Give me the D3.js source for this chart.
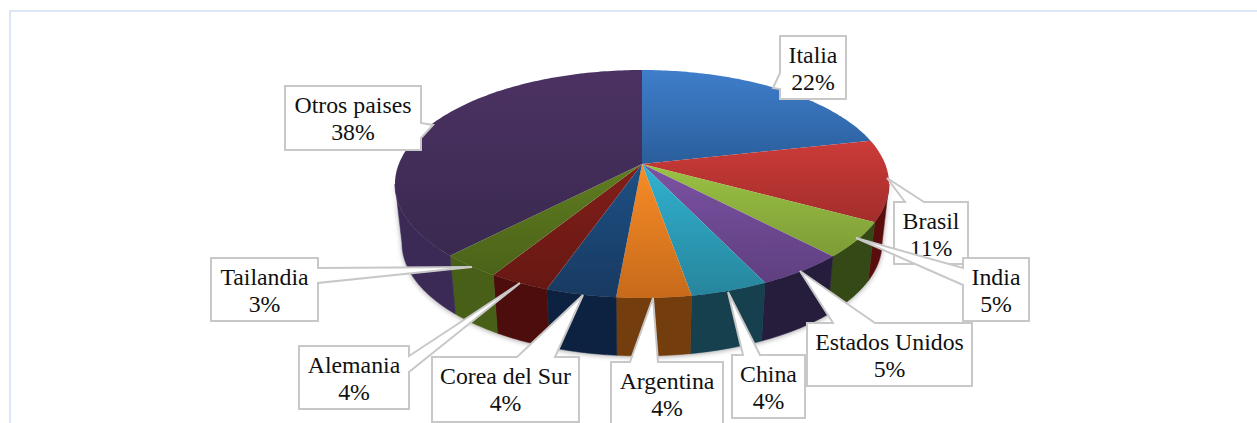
<html>
<head>
  <meta charset="utf-8">
  <script src="https://d3js.org/d3.v7.min.js"></script>
  <style>
    html, body { margin:0; padding:0; background:#fff; overflow:hidden; }
    svg { display:block; }
    text { font-family:"Liberation Serif", serif; font-size:23.8px; fill:#111; text-anchor:middle; }
  </style>
</head>
<body>
  <svg id="chart" width="1257" height="423"></svg>
  <script>
    // slice sizes as measured on the picture, the printed labels are the rounded ones
    var paises = [ "Italia", "Brasil", "India", "Estados Unidos", "China",
                   "Argentina", "Corea del Sur", "Alemania", "Tailandia", "Otros paises" ];
    var valores = [ 21.5, 11.5, 5, 5, 4.3, 4.1, 3.9, 3.4, 3.4, 37.9 ];
    var etiquetas = [ "22%", "11%", "5%", "5%", "4%", "4%", "4%", "4%", "3%", "38%" ];

    var colorTop = [ "#3f7ecb", "#cb3b39", "#9ac244", "#7c52a3", "#30b2d1",
                     "#f88c26", "#1d5084", "#811e1a", "#607d20", "#4c3263" ];
    var colorBottom = [ "#2a5e9c", "#a32d2a", "#7d9c36", "#5f3f80", "#27859c",
                        "#c76a1b", "#183a62", "#671813", "#4a6218", "#39294f" ];
    var colorWall = [ "#1f4472", "#5a0e0e", "#364817", "#271a3b", "#123f4e",
                      "#733d0e", "#10243f", "#4d0f0c", "#465f16", "#3a2a56" ];

    // callout boxes: [x, y, w, h], pointer tip, side the pointer leaves from, pointer base
    var cajas = [
      { box:[780,36,66,63],   tip:[773,88],  side:"left",   base:[73,89] },
      { box:[894,202,74,62],  tip:[887,178], side:"top",    base:[905,924] },
      { box:[963,258,66,63],  tip:[856,238], side:"left",   base:[268,285] },
      { box:[807,323,165,63], tip:[800,271], side:"top",    base:[833,875] },
      { box:[732,355,73,63],  tip:[728,292], side:"top",    base:[743,760] },
      { box:[611,362,112,64], tip:[653,298], side:"top",    base:[630,658] },
      { box:[432,357,147,65], tip:[583,295], side:"top",    base:[517,555] },
      { box:[299,346,110,63], tip:[520,283], side:"right",  base:[356,372] },
      { box:[211,258,107,63], tip:[472,267], side:"right",  base:[268,283] },
      { box:[285,86,136,64],  tip:[433,125], side:"right",  base:[123,138] }
    ];

    var svg = d3.select( "#chart" );
    var defs = svg.append( "defs" );

    // the pie is tilted, so the rim goes through a small perspective
    var cx = 642, tilt = -0.1754;
    var apexY = 164, spreadY = 81.7, spreadX = 243.2;
    var wallStart = Math.acos( tilt ), wallEnd = 2*Math.PI - wallStart;   // silhouette points

    function rim( a ) {
      var x = Math.sin( a ), y = -Math.cos( a ), w = 1 + tilt*y;
      return [ cx + spreadX*x/w, ( apexY + spreadY*y )/w ];
    }
    function rimBottom( a ) {                 // same rim, on the floor of the disc
      var p = rim( a );
      return [ cx + (p[0]-cx)*240/247, 243 + (p[1]-184)*113/114 ];
    }

    var pie = d3.pie().sort( null ).value( d => d );
    var arcs = pie( valores );
    var line = d3.line();

    function samples( a0, a1 ) {
      var n = Math.max( 4, Math.ceil( (a1-a0)*60 ) );
      return d3.range( n+1 ).map( i => a0 + (a1-a0)*i/n );
    }

    arcs.forEach( function( d, i ) {
      var g = defs.append( "linearGradient" ).attr( "id", "top" + i )
          .attr( "x1", 0 ).attr( "y1", 0 ).attr( "x2", 0 ).attr( "y2", 1 );
      g.append( "stop" ).attr( "offset", 0 ).attr( "stop-color", colorTop[i] );
      g.append( "stop" ).attr( "offset", 1 ).attr( "stop-color", colorBottom[i] );
    } );

    var blur = defs.append( "filter" ).attr( "id", "sombra" )
        .attr( "x", "-5%" ).attr( "y", "-5%" ).attr( "width", "110%" ).attr( "height", "115%" );
    blur.append( "feDropShadow" ).attr( "dx", 0 ).attr( "dy", 1 )
        .attr( "stdDeviation", 2.5 ).attr( "flood-color", "#000" ).attr( "flood-opacity", 0.35 );

    // frame, only top and left show
    svg.append( "path" ).attr( "d", "M10,423V11H1257" )
        .attr( "fill", "none" ).attr( "stroke", "#dce6f6" ).attr( "stroke-width", 2 );

    // outer wall, only the part facing us
    var front = arcs.filter( d => d.endAngle > wallStart && d.startAngle < wallEnd );
    var walls = svg.append( "g" ).attr( "filter", "url(#sombra)" );
    walls.selectAll( "path" ).data( front ).enter().append( "path" )
        .attr( "d", function( d ) {
          var s = samples( Math.max( d.startAngle, wallStart ), Math.min( d.endAngle, wallEnd ) );
          return line( s.map( rim ).concat( s.reverse().map( rimBottom ) ) ) + "Z";
        } )
        .attr( "fill", d => colorWall[d.index] )
        .attr( "stroke", d => colorWall[d.index] ).attr( "stroke-width", 0.5 );

    // top of the disc
    svg.append( "g" ).selectAll( "path" ).data( arcs ).enter().append( "path" )
        .attr( "d", d => line( [ [cx,apexY] ].concat( samples( d.startAngle, d.endAngle ).map( rim ) ) ) + "Z" )
        .attr( "fill", (d,i) => "url(#top" + i + ")" );

    // callouts
    function calloutPath( c ) {
      var [x,y,w,h] = c.box, t = c.tip, b = c.base, p;
      if( c.side == "top" )
        p = [ [x,y], [b[0],y], t, [b[1],y], [x+w,y], [x+w,y+h], [x,y+h] ];
      else if( c.side == "left" )
        p = [ [x,y], [x+w,y], [x+w,y+h], [x,y+h], [x,b[1]], t, [x,b[0]] ];
      else
        p = [ [x,y], [x+w,y], [x+w,b[0]], t, [x+w,b[1]], [x+w,y+h], [x,y+h] ];
      return line( p ) + "Z";
    }

    var labels = svg.append( "g" ).selectAll( "g" ).data( cajas ).enter().append( "g" );
    labels.append( "path" ).attr( "d", calloutPath )
        .attr( "fill", "#fff" ).attr( "stroke", "#c8c8c8" ).attr( "stroke-width", 2 );
    labels.append( "text" )
        .attr( "x", c => c.box[0] + c.box[2]/2 ).attr( "y", c => c.box[1] + 27 )
        .text( (c,i) => paises[i] );
    labels.append( "text" )
        .attr( "x", c => c.box[0] + c.box[2]/2 ).attr( "y", c => c.box[1] + 54 )
        .text( (c,i) => etiquetas[i] );
  </script>
</body>
</html>
